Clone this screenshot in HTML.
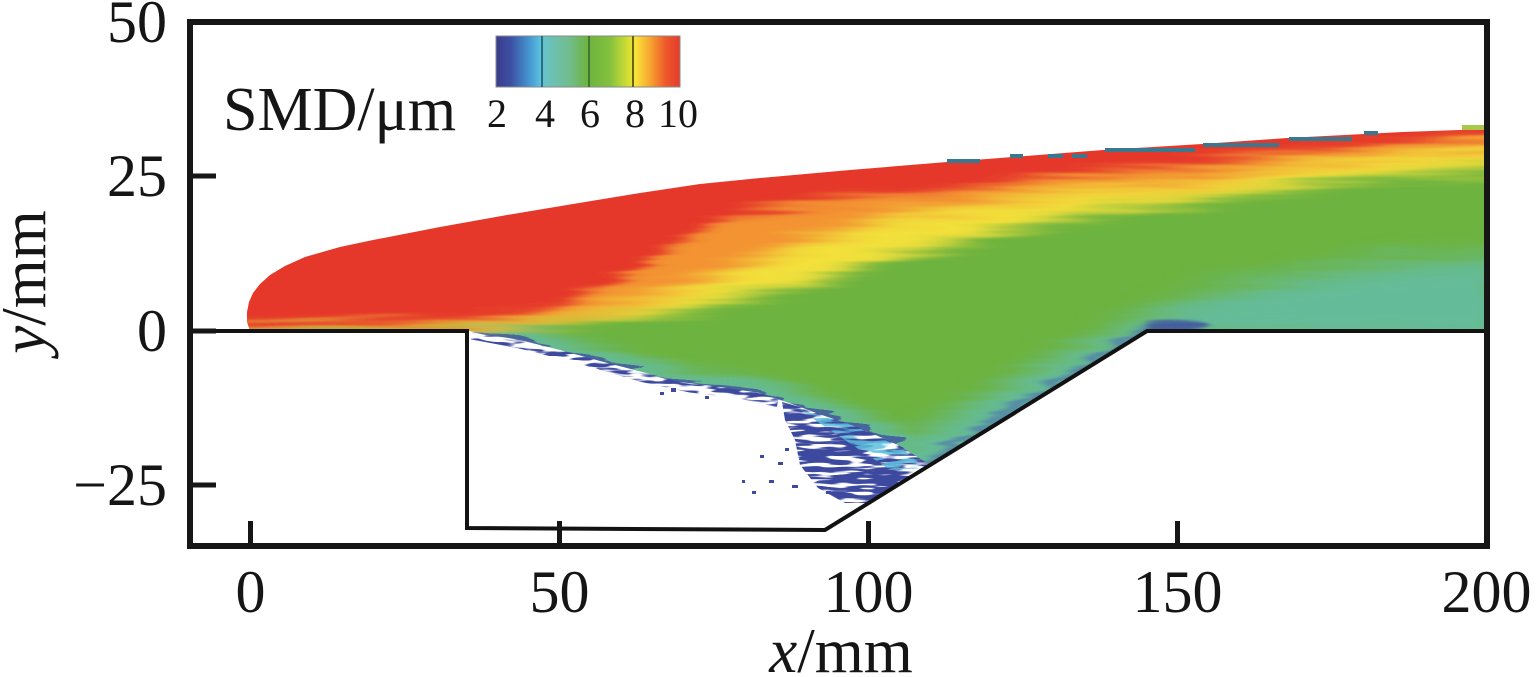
<!DOCTYPE html>
<html>
<head>
<meta charset="utf-8">
<style>
html,body{margin:0;padding:0;background:#fff;}
svg{display:block;}
text{font-family:"Liberation Serif","Times New Roman",serif;fill:#151515;}
</style>
</head>
<body>
<svg width="1536" height="677" viewBox="0 0 1536 677" xmlns="http://www.w3.org/2000/svg">
<defs>
  <linearGradient id="cb" x1="0" y1="0" x2="1" y2="0">
    <stop offset="0" stop-color="#3a3c8c"/>
    <stop offset="0.08" stop-color="#3d4fa2"/>
    <stop offset="0.18" stop-color="#4496d0"/>
    <stop offset="0.245" stop-color="#5cc3e2"/>
    <stop offset="0.27" stop-color="#6ac2c4"/>
    <stop offset="0.4" stop-color="#71bd8c"/>
    <stop offset="0.5" stop-color="#6db33f"/>
    <stop offset="0.62" stop-color="#84c13e"/>
    <stop offset="0.72" stop-color="#d6df32"/>
    <stop offset="0.76" stop-color="#f8e23a"/>
    <stop offset="0.84" stop-color="#f7a32f"/>
    <stop offset="0.92" stop-color="#ee5a2b"/>
    <stop offset="1" stop-color="#e43a2b"/>
  </linearGradient>
  <clipPath id="sc">
    <path d="M 250,331 L 247,322 L 247,312 L 249,302 L 253,293 L 260,284 L 270,275 L 285,266 L 305,257 L 340,247 L 373,240 L 440,227 L 507,215 L 573,204 L 640,193 L 700,184 L 760,178 L 850,170 L 947,162 L 1000,158 L 1103,150 L 1202,144 L 1287,138 L 1403,132 L 1487,129 L 1487,331 L 1147,331 L 930,465 L 900,446 L 860,428 L 822,415 L 792,404 L 760,393 L 720,387 L 680,382 L 650,374 L 600,361 L 560,350 L 520,340 L 490,335 L 469,331 Z"/>
  </clipPath>
  <filter id="tex" x="-5%" y="-20%" width="110%" height="140%">
    <feTurbulence type="fractalNoise" baseFrequency="0.007 0.13" numOctaves="2" seed="4" result="n"/>
    <feDisplacementMap in="SourceGraphic" in2="n" scale="22" xChannelSelector="R" yChannelSelector="G"/>
  </filter>
  <filter id="speck" x="-10%" y="-10%" width="120%" height="120%">
    <feTurbulence type="fractalNoise" baseFrequency="0.035 0.22" numOctaves="2" seed="7" result="t"/>
    <feColorMatrix in="t" type="matrix" values="0 0 0 0 0  0 0 0 0 0  0 0 0 0 0  10 0 0 0 -4.6" result="m"/>
    <feComposite in="SourceGraphic" in2="m" operator="in"/>
  </filter>
  <filter id="speckd" x="-10%" y="-10%" width="120%" height="120%">
    <feTurbulence type="fractalNoise" baseFrequency="0.03 0.25" numOctaves="2" seed="11" result="t"/>
    <feColorMatrix in="t" type="matrix" values="0 0 0 0 0  0 0 0 0 0  0 0 0 0 0  10 0 0 0 -4.0" result="m"/>
    <feComposite in="SourceGraphic" in2="m" operator="in"/>
  </filter>
  <filter id="b3" x="-10%" y="-20%" width="120%" height="140%"><feGaussianBlur stdDeviation="3"/></filter>
  <filter id="b5" x="-10%" y="-20%" width="120%" height="140%"><feGaussianBlur stdDeviation="5"/></filter>
  <filter id="b7" x="-10%" y="-20%" width="120%" height="140%"><feGaussianBlur stdDeviation="7"/></filter>
  <filter id="b9" x="-10%" y="-20%" width="120%" height="140%"><feGaussianBlur stdDeviation="9"/></filter>
  <filter id="b12" x="-20%" y="-30%" width="140%" height="160%"><feGaussianBlur stdDeviation="12"/></filter>
</defs>

<!-- speckled droplets below dense spray (cavity) -->
<g filter="url(#speckd)">
  <path d="M 782,402 L 822,413 L 860,426 L 900,445 L 932,464 L 900,484 L 870,503 L 845,503 L 818,488 L 800,465 L 795,440 L 785,420 Z" fill="#3d4a9e"/>
</g>
<g filter="url(#speck)">
  <polyline points="472,334 520,343 560,353 600,364 640,376 690,387 740,393 778,402" fill="none" stroke="#3d4a9e" stroke-width="11"/>
</g>
<g filter="url(#speck)" opacity="0.85">
  <path d="M 800,410 L 850,424 L 900,447 L 925,468 L 890,470 L 845,440 Z" fill="#5cbfdc"/>
</g>

<!-- spray field -->
<g clip-path="url(#sc)">
  <g filter="url(#tex)">
    <rect x="230" y="100" width="1280" height="440" fill="#6db33f"/>
    <!-- light blue lower right -->
    <path d="M 1500,255 L 1400,262 L 1300,275 L 1200,294 L 1150,312 L 1100,336 L 1050,360 L 1000,388 L 950,418 L 900,440 L 860,460 L 870,530 L 1200,345 L 1500,345 Z" fill="#5fc2da" opacity="0.58" filter="url(#b12)"/>
    <!-- light blue along lower boundary in cavity -->
    <polyline points="469,333 520,341 560,351 600,362 640,374 690,385 740,390 790,404 840,420 900,446" fill="none" stroke="#5fc2da" stroke-width="28" opacity="0.55" filter="url(#b7)"/>
    <!-- ramp edge blue -->
    <polyline points="900,478 1147,329" fill="none" stroke="#4b64b2" stroke-width="10" opacity="0.55" filter="url(#b3)"/>
    <!-- dark blue band along lower boundary -->
    <polyline points="469,334 520,342 560,352 600,363 640,375 690,386 740,391 790,406 840,421 900,446" fill="none" stroke="#3d4a9e" stroke-width="7" opacity="0.75"/>
    <!-- dark blob near ramp top -->
    <ellipse cx="1176" cy="328" rx="32" ry="10" fill="#3d4a9e" opacity="0.8" filter="url(#b3)"/>
    <!-- yellow -->
    <path d="M 230,100 L 1500,100 L 1500,168 L 1400,175 L 1300,186 L 1200,200 L 1100,212 L 1000,232 L 900,254 L 800,287 L 700,306 L 640,316 L 560,323 L 480,328 L 230,330 Z" fill="#f2e03a" filter="url(#b7)"/>
    <!-- orange -->
    <path d="M 230,100 L 1500,100 L 1500,148 L 1400,152 L 1300,164 L 1200,182 L 1100,189 L 1000,200 L 900,214 L 800,244 L 700,282 L 640,301 L 580,315 L 500,322 L 400,326 L 230,328 Z" fill="#f39330" filter="url(#b9)"/>
    <!-- red -->
    <path d="M 230,100 L 1500,100 L 1500,137 L 1400,141 L 1300,151 L 1200,164 L 1100,174 L 1000,184 L 900,191 L 800,203 L 740,215 L 700,230 L 660,254 L 630,275 L 600,290 L 560,305 L 520,314 L 460,320 L 350,324 L 230,326 Z" fill="#e5392b" filter="url(#b5)"/>
  </g>
</g>

<!-- top edge fragments -->
<g fill="#3a7890">
  <rect x="947" y="159" width="33" height="4"/>
  <rect x="1010" y="154" width="13" height="4"/>
  <rect x="1048" y="154" width="15" height="4"/>
  <rect x="1072" y="154" width="15" height="4"/>
  <rect x="1105" y="148" width="90" height="4"/>
  <rect x="1203" y="143" width="76" height="4"/>
  <rect x="1289" y="137" width="63" height="4"/>
  <rect x="1364" y="131" width="14" height="4"/>
</g>
<rect x="1462" y="125" width="22" height="5" fill="#a8c84a"/>

<!-- scattered dark droplets in cavity -->
<g fill="#3d4a9e">
  <rect x="671" y="388" width="5" height="4"/>
  <rect x="660" y="392" width="4" height="3"/>
  <rect x="752" y="491" width="4" height="3"/>
  <rect x="769" y="480" width="5" height="3"/>
  <rect x="792" y="485" width="6" height="3"/>
  <rect x="826" y="491" width="5" height="3"/>
  <rect x="760" y="455" width="4" height="3"/>
  <rect x="742" y="480" width="3" height="3"/>
  <rect x="705" y="396" width="4" height="3"/>
  <rect x="778" y="462" width="5" height="3"/>
  <rect x="785" y="448" width="4" height="3"/>
</g>

<!-- wall geometry -->
<polyline points="193,331 467,331 467,528 825,530 1147,331 1484,331" fill="none" stroke="#121212" stroke-width="4" stroke-linejoin="miter"/>

<!-- frame -->
<rect x="190" y="22" width="1297" height="524" fill="none" stroke="#161616" stroke-width="6"/>

<!-- ticks -->
<g stroke="#161616" stroke-width="5">
  <line x1="193" y1="176" x2="216" y2="176"/>
  <line x1="193" y1="331" x2="216" y2="331"/>
  <line x1="193" y1="485" x2="216" y2="485"/>
  <line x1="250.5" y1="543" x2="250.5" y2="521"/>
  <line x1="559.5" y1="543" x2="559.5" y2="521"/>
  <line x1="868.5" y1="543" x2="868.5" y2="521"/>
  <line x1="1177.5" y1="543" x2="1177.5" y2="521"/>
</g>

<!-- y tick labels -->
<g font-size="60" text-anchor="end">
  <text x="167" y="42">50</text>
  <text x="167" y="196">25</text>
  <text x="167" y="351">0</text>
  <text x="167" y="505">−25</text>
</g>
<!-- x tick labels -->
<g font-size="60" text-anchor="middle">
  <text x="250.5" y="612">0</text>
  <text x="559.5" y="612">50</text>
  <text x="868.5" y="612">100</text>
  <text x="1177.5" y="612">150</text>
  <text x="1486.5" y="612">200</text>
</g>

<!-- axis labels -->
<text x="841" y="672" font-size="63" text-anchor="middle"><tspan font-style="italic">x</tspan>/mm</text>
<text transform="translate(45,282) rotate(-90)" font-size="63" text-anchor="middle"><tspan font-style="italic">y</tspan>/mm</text>

<!-- legend -->
<text x="223" y="130" font-size="62">SMD/μm</text>
<rect x="496" y="36" width="184" height="51" fill="url(#cb)" stroke="#8a8a8a" stroke-width="1"/>
<line x1="542" y1="36" x2="542" y2="87" stroke="#2f6f7a" stroke-width="2"/>
<line x1="589" y1="36" x2="589" y2="87" stroke="#3f7a30" stroke-width="2"/>
<line x1="633" y1="36" x2="633" y2="87" stroke="#6a6418" stroke-width="2"/>
<g font-size="40" text-anchor="middle">
  <text x="497" y="127">2</text>
  <text x="545" y="127">4</text>
  <text x="590" y="127">6</text>
  <text x="635" y="127">8</text>
  <text x="678" y="127">10</text>
</g>
</svg>
</body>
</html>
